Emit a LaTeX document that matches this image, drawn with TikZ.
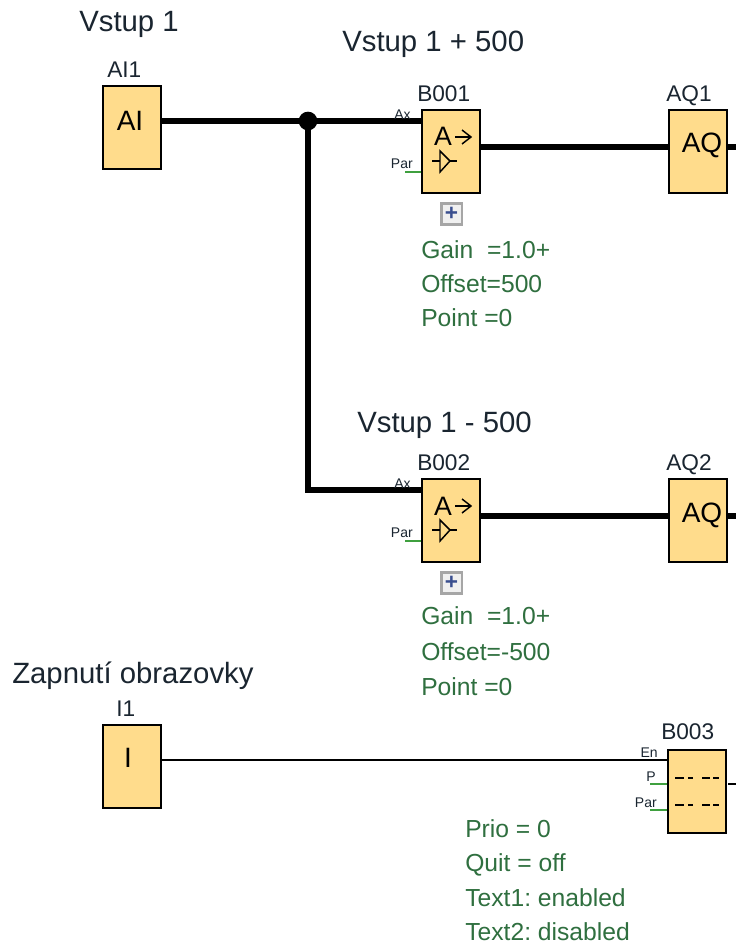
\documentclass[tikz,border=0pt]{standalone}
\usepackage{fontspec}
\setmainfont{Liberation Sans}
\definecolor{boxfill}{HTML}{FFDC8C}
\definecolor{parcol}{HTML}{3FA03F}
\definecolor{txtgreen}{HTML}{2F6F3F}
\definecolor{lblink}{HTML}{1A2530}
\definecolor{plusblue}{HTML}{3A4F8F}
\tikzset{
  x=0.75pt,y=-0.75pt,
  block/.style={draw=black,line width=1.5pt,fill=boxfill,minimum width=43.5pt,minimum height=62.5pt,inner sep=0pt,anchor=north west},
  io/.style={font=\fontsize{21}{24}\selectfont,inner sep=0pt},
  thick wire/.style={line width=4.4pt,black},
  thin wire/.style={line width=0.9pt,black},
  par wire/.style={line width=0.9pt,parcol},
  title/.style={font=\fontsize{22}{26}\selectfont,text=lblink,anchor=base west,inner sep=0pt},
  blabel/.style={font=\fontsize{17}{20}\selectfont,text=lblink,anchor=base west,inner sep=0pt},
  pin/.style={font=\fontsize{10.5}{12}\selectfont,text=lblink,anchor=base east,inner sep=0pt},
  param/.style={font=\fontsize{18.5}{22}\selectfont,text=txtgreen,anchor=base west,inner sep=0pt},
  plusbtn/.style={draw=gray!70,line width=2pt,fill=gray!12,minimum size=15.5pt,inner sep=0pt,font=\fontsize{17}{17}\bfseries\selectfont,text=plusblue},
  sym/.style={line width=1.1pt,black},
}
\newcommand{\ampsym}[2]{%
  \node[font=\fontsize{20}{22}\selectfont,anchor=base,inner sep=0pt] at (#1+22,#2+37) {A};
  \draw[sym] (#1+34,#2+28) -- (#1+50,#2+28);
  \draw[sym] (#1+41,#2+21) -- (#1+50,#2+28) -- (#1+41,#2+35);
  \draw[sym] (#1+11,#2+52) -- (#1+36,#2+52);
  \draw[sym,fill=boxfill] (#1+19,#2+42) -- (#1+29,#2+52) -- (#1+19,#2+63) -- cycle;
}
\begin{document}
\begin{tikzpicture}
\frenchspacing
\useasboundingbox (0,0) rectangle (736,945);
% blocks
\node[block] (ai1) at (102,85) {};
\node[block] (b001) at (421,109) {};
\node[block] (aq1) at (668,109) {};
\node[block] (b002) at (421,478) {};
\node[block] (aq2) at (668,478) {};
\node[block] (i1) at (102,724) {};
\node[block] (b003) at (667,749) {};
\node[io] (ai1t) at (130,121) {AI};
\node[io] (aq1t) at (702,145) {AQ};
\node[io] (aq2t) at (702,515) {AQ};
\node[io] (i1t) at (128,758) {I};
\ampsym{421}{109}
\ampsym{421}{478}
% coordinates
\coordinate (in1) at (421,121);
\coordinate (in2) at (421,490);
\coordinate (par1) at (421,172);
\coordinate (par1s) at (405,172);
\coordinate (par2) at (421,541);
\coordinate (par2s) at (405,541);
\coordinate (en) at (667,760);
\coordinate (pp) at (667,784);
\coordinate (pps) at (650,784);
\coordinate (par3) at (667,810);
\coordinate (par3s) at (650,810);
\coordinate (o1a) at (479,147);
\coordinate (o1b) at (668,147);
\coordinate (o2a) at (479,516);
\coordinate (o2b) at (668,516);
\coordinate (e1) at (736,147);
\coordinate (e2) at (736,516);
\coordinate (e3a) at (728,784);
\coordinate (e3) at (736,784);
\node[circle,fill=black,minimum size=14pt,inner sep=0pt,outer sep=0pt] (jn) at (308,121) {};
% wires
\draw[thick wire] (ai1.east |- in1) -- (jn) -- (in1);
\draw[thick wire] (jn) -- (jn |- in2) -- (in2);
\draw[thick wire] (o1a) -- (o1b);
\draw[thick wire] (o2a) -- (o2b);
\draw[thick wire] (aq1.east |- e1) -- (e1);
\draw[thick wire] (aq2.east |- e2) -- (e2);
\draw[thin wire] (i1.east |- en) -- (en);
\draw[thin wire] (e3a) -- (e3);
\draw[par wire] (par1s) -- (par1);
\draw[par wire] (par2s) -- (par2);
\draw[par wire] (pps) -- (pp);
\draw[par wire] (par3s) -- (par3);
% B003 dashes
\draw[line width=1.5pt] (675,778) -- (684,778) (688,778) -- (693,778) (702,778) -- (710,778) (713,778) -- (719,778);
\draw[line width=1.5pt] (675,805) -- (684,805) (688,805) -- (693,805) (702,805) -- (710,805) (713,805) -- (719,805);
% titles
\node[title] (t1) at (79,32) {Vstup 1};
\node[title] (t2) at (342,52) {Vstup 1 + 500};
\node[title] (t3) at (357,432) {Vstup 1 - 500};
\node[title] (t4) at (12,683) {Zapnutí obrazovky};
% block labels
\node[blabel] (l1) at (107,78) {AI1};
\node[blabel] (l2) at (417,102) {B001};
\node[blabel] (l3) at (666,102) {AQ1};
\node[blabel] (l4) at (417,470) {B002};
\node[blabel] (l5) at (666,470) {AQ2};
\node[blabel] (l6) at (116,716) {I1};
\node[blabel] (l7) at (661,739) {B003};
% pins
\node[pin] (p1) at (411,120) {Ax};
\node[pin] (p2) at (413,169) {Par};
\node[pin] (p3) at (411,488) {Ax};
\node[pin] (p4) at (413,537) {Par};
\node[pin] (p5) at (658,757) {En};
\node[pin] (p6) at (656,781) {P};
\node[pin] (p7) at (657,807) {Par};
% plus buttons
\node[plusbtn] (b1) at (451.5,214) {+};
\node[plusbtn] (b2) at (451.5,583) {+};
% params
\node[param] (g1) at (421,258) {Gain\ \ =1.0+};
\node[param] (g2) at (421,292) {Offset=500};
\node[param] (g3) at (421,326) {Point =0};
\node[param] (h1) at (421,624) {Gain\ \ =1.0+};
\node[param] (h2) at (421,660) {Offset=-500};
\node[param] (h3) at (421,695) {Point =0};
\node[param] (k1) at (465,837) {Prio = 0};
\node[param] (k2) at (465,871) {Quit = off};
\node[param] (k3) at (465,906) {Text1: enabled};
\node[param] (k4) at (465,940) {Text2: disabled};
\end{tikzpicture}
\end{document}
